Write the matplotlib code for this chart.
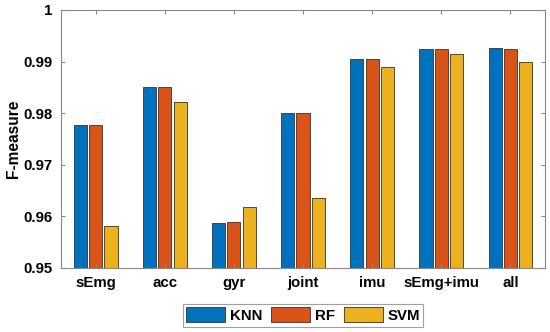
import numpy as np
import matplotlib
matplotlib.use("Agg")
import matplotlib.pyplot as plt

categories = ["sEmg", "acc", "gyr", "joint", "imu", "sEmg+imu", "all"]
knn = [0.9777, 0.9850, 0.9587, 0.9800, 0.9905, 0.9925, 0.9927]
rf = [0.9777, 0.9851, 0.9589, 0.9800, 0.9905, 0.9924, 0.9925]
svm = [0.9581, 0.9821, 0.9619, 0.9636, 0.9889, 0.9914, 0.9900]
series = ["KNN", "RF", "SVM"]
colors = ["#0072BD", "#D95319", "#EDB120"]
yticks = [0.95, 0.96, 0.97, 0.98, 0.99, 1.0]
yticklabels = ["0.95", "0.96", "0.97", "0.98", "0.99", "1"]

plt.rcParams["font.family"] = ["Liberation Sans", "DejaVu Sans"]
plt.rcParams["font.weight"] = "bold"

fig = plt.figure(figsize=(5.5, 3.32), dpi=100)
ax = fig.add_axes([0.111, 0.193, 0.880, 0.777])

x = np.arange(1, len(categories) + 1)
w = 0.19
step = 0.222
for i, (vals, name, c) in enumerate(zip([knn, rf, svm], series, colors)):
    ax.bar(x + (i - 1) * step, np.array(vals) - 0.95, bottom=0.95, width=w,
           color=c, edgecolor="#333333", linewidth=0.6, label=name)

ax.set_xlim(0.5, len(categories) + 0.5)
ax.set_ylim(0.95, 1.0)
ax.set_xticks(x)
ax.set_xticklabels(categories, fontsize=10.8, fontweight="bold")
ax.set_yticks(yticks)
ax.set_yticklabels(yticklabels, fontsize=10.8, fontweight="bold")
ax.set_ylabel("F-measure", fontsize=11.2, fontweight="bold")
ax.yaxis.set_label_coords(-0.083, 0.5)
ax.tick_params(direction="in", length=3, width=0.8, color="#888888",
               top=True, right=True, pad=6)
for s in ax.spines.values():
    s.set_color("#888888")
    s.set_linewidth(0.8)

leg = fig.legend(loc="center", bbox_to_anchor=(0.551, 0.051), ncol=3,
                 frameon=True, fancybox=False,
                 edgecolor="#888888", handlelength=2.6, handleheight=1.15,
                 handletextpad=0.3, columnspacing=0.6, borderpad=0.25,
                 prop={"weight": "bold", "size": 10.8})
leg.get_frame().set_linewidth(0.8)

fig.savefig("out.png", dpi=100)
